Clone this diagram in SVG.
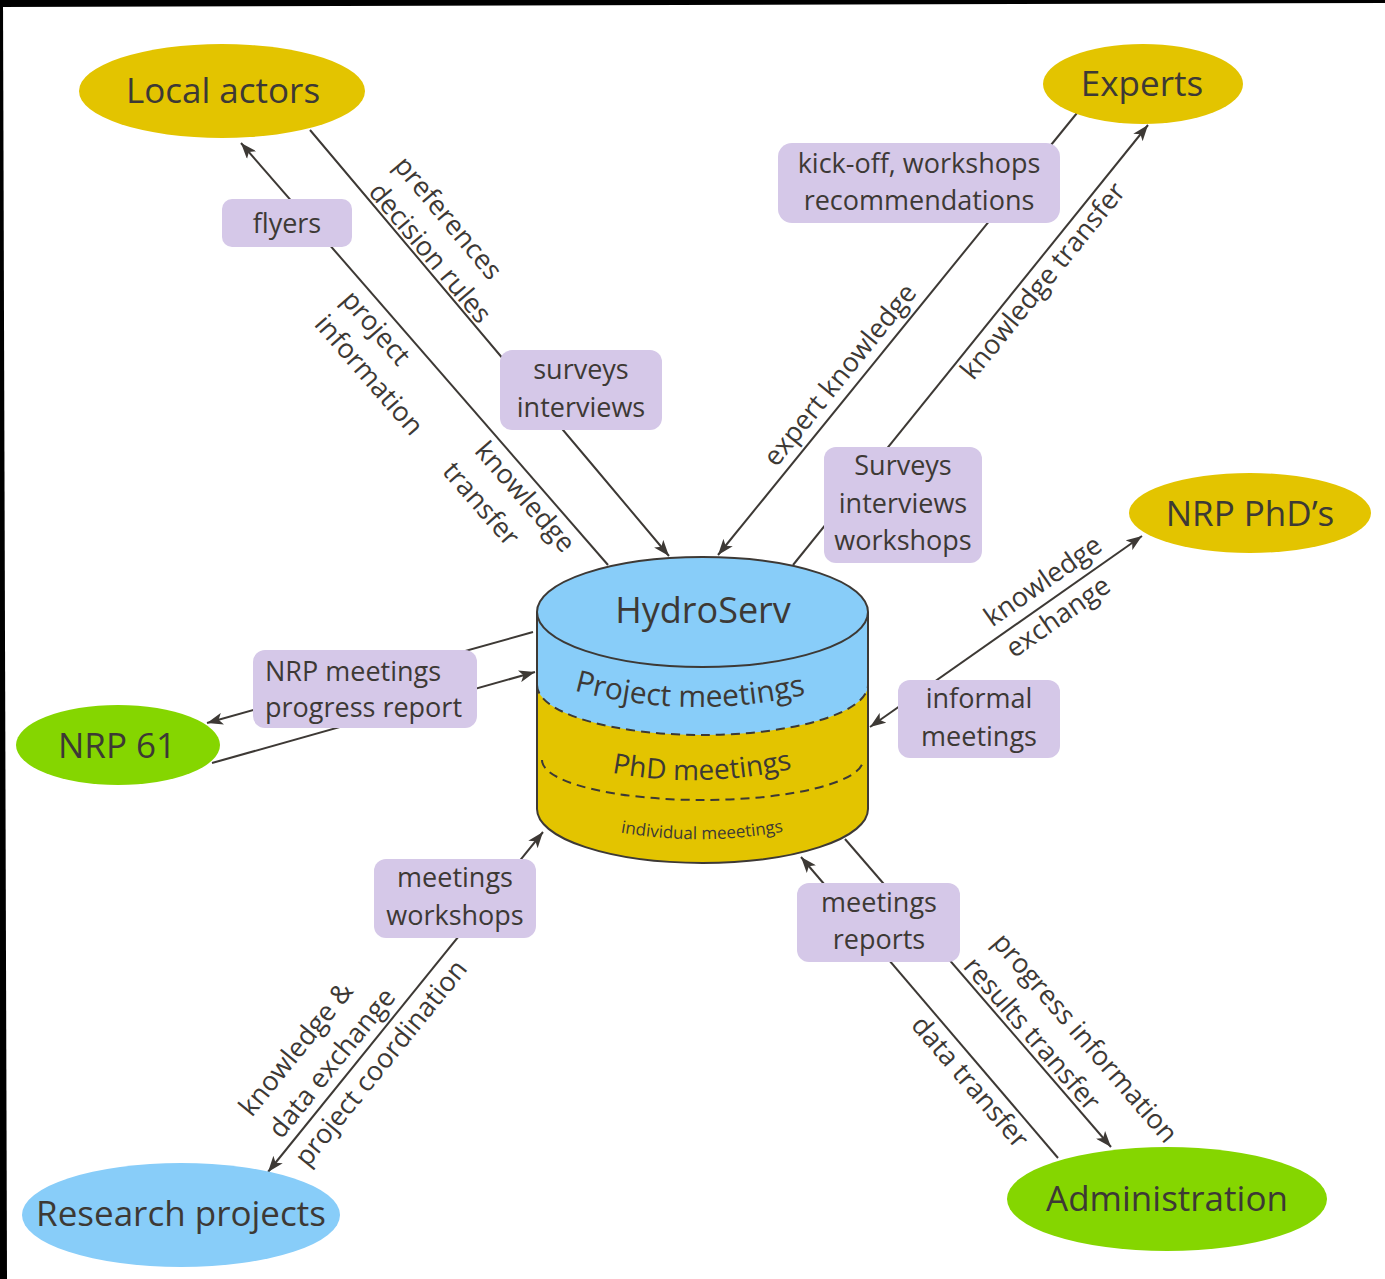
<svg xmlns="http://www.w3.org/2000/svg" width="1385" height="1279" viewBox="0 0 1385 1279">
<defs>
<style>
text{font-family:"Open Sans","Noto Sans","Liberation Sans",sans-serif;fill:#3d3935}
.lbl{font-size:27px;text-anchor:middle}
.rot{font-size:27px;text-anchor:middle}
.big{font-size:35px;text-anchor:middle}
.box{fill:#d5c8e8}
.conn{stroke:#3d3935;stroke-width:2;fill:none}
.dash{stroke:#3d3935;stroke-width:2;fill:none;stroke-dasharray:9 6}
.yel{fill:#e3c400}
.grn{fill:#85d600}
.blu{fill:#88cdf9}
</style>
<marker id="ah" viewBox="0 0 16 12" markerWidth="16" markerHeight="12" refX="16" refY="6" orient="auto-start-reverse" markerUnits="userSpaceOnUse">
<path d="M0,0 L16,6 L0,12 L4,6 z" fill="#3d3935"/>
</marker>
</defs>
<rect width="1385" height="1279" fill="#fff"/>
<polygon points="0,0 1385,0 1385,3 0,7" fill="#000"/>
<polygon points="0,0 3,0 7,1279 0,1279" fill="#000"/>

<g id="connectors">
<line class="conn" x1="608" y1="565" x2="241" y2="143" marker-end="url(#ah)"/>
<polyline class="conn" points="310,130 590,462 669,556" marker-end="url(#ah)"/>
<line class="conn" x1="1077" y1="113" x2="718" y2="555" marker-end="url(#ah)"/>
<line class="conn" x1="793" y1="565" x2="1148" y2="125" marker-end="url(#ah)"/>
<line class="conn" x1="870" y1="727" x2="1142" y2="536" marker-start="url(#ah)" marker-end="url(#ah)"/>
<line class="conn" x1="533" y1="632" x2="207" y2="723" marker-end="url(#ah)"/>
<line class="conn" x1="212" y1="763" x2="535" y2="672" marker-end="url(#ah)"/>
<line class="conn" x1="543" y1="832" x2="268" y2="1172" marker-start="url(#ah)" marker-end="url(#ah)"/>
<line class="conn" x1="1058" y1="1158" x2="801" y2="857" marker-end="url(#ah)"/>
<line class="conn" x1="845" y1="839" x2="1111" y2="1147" marker-end="url(#ah)"/>
<g class="edge-labels">
<text class="rot" transform="translate(448,218) rotate(50)" y="9">preferences</text>
<text class="rot" transform="translate(430,253) rotate(50)" y="9">decision rules</text>
<text class="rot" transform="translate(376,328) rotate(49)" y="9">project</text>
<text class="rot" transform="translate(369,375) rotate(49)" y="9">information</text>
<text class="rot" transform="translate(525,497) rotate(49)" y="9">knowledge</text>
<text class="rot" transform="translate(481,504) rotate(49)" y="9">transfer</text>
<text class="rot" transform="translate(840,375) rotate(-51)" y="9">expert knowledge</text>
<text class="rot" transform="translate(1043,281) rotate(-51)" y="9">knowledge transfer</text>
<text class="rot" transform="translate(1043,581) rotate(-35)" y="9">knowledge</text>
<text class="rot" transform="translate(1058,617) rotate(-35)" y="9">exchange</text>
<text class="rot" transform="translate(296,1049) rotate(-51)" y="9">knowledge &amp;</text>
<text class="rot" transform="translate(332,1063) rotate(-51)" y="9">data exchange</text>
<text class="rot" transform="translate(381,1063) rotate(-51)" y="9">project coordination</text>
<text class="rot" transform="translate(970,1082) rotate(49.5)" y="9">data transfer</text>
<text class="rot" transform="translate(1032,1034) rotate(49.2)" y="9">results transfer</text>
<text class="rot" transform="translate(1085,1038) rotate(49.2)" y="9">progress information</text>
</g>
</g>

<g id="box-flyers"><rect class="box" x="222" y="199" width="130" height="48" rx="10"/><text class="lbl" x="287" y="233">flyers</text></g>
<g id="box-surveys"><rect class="box" x="500" y="350" width="162" height="80" rx="12"/><text class="lbl" x="581" y="379">surveys</text><text class="lbl" x="581" y="417">interviews</text></g>
<g id="box-kickoff"><rect class="box" x="778" y="143" width="282" height="80" rx="14"/><text class="lbl" x="919" y="173">kick-off, workshops</text><text class="lbl" x="919" y="210">recommendations</text></g>
<g id="box-surveys2"><rect class="box" x="824" y="447" width="158" height="116" rx="12"/><text class="lbl" x="903" y="475">Surveys</text><text class="lbl" x="903" y="513">interviews</text><text class="lbl" x="903" y="550">workshops</text></g>
<g id="box-nrp"><rect class="box" x="253" y="650" width="224" height="78" rx="12"/><text x="265" y="681" style="font-size:27px">NRP meetings</text><text x="265" y="717" style="font-size:27px">progress report</text></g>
<g id="box-informal"><rect class="box" x="898" y="680" width="162" height="78" rx="12"/><text class="lbl" x="979" y="708">informal</text><text class="lbl" x="979" y="746">meetings</text></g>
<g id="box-meetws"><rect class="box" x="374" y="859" width="162" height="79" rx="12"/><text class="lbl" x="455" y="887">meetings</text><text class="lbl" x="455" y="925">workshops</text></g>
<g id="box-meetrep"><rect class="box" x="797" y="883" width="163" height="79" rx="12"/><text class="lbl" x="879" y="912">meetings</text><text class="lbl" x="879" y="949">reports</text></g>

<g id="local-actors"><ellipse class="yel" cx="222" cy="91" rx="143" ry="47"/><text class="big" x="223" y="103">Local actors</text></g>
<g id="experts"><ellipse class="yel" cx="1143" cy="84" rx="100" ry="40"/><text class="big" x="1142" y="96">Experts</text></g>
<g id="nrp-phds"><ellipse class="yel" cx="1250" cy="513" rx="121" ry="40"/><text class="big" x="1250" y="526">NRP PhD’s</text></g>
<g id="nrp61"><ellipse class="grn" cx="118" cy="745" rx="102" ry="40"/><text class="big" x="117" y="758">NRP 61</text></g>
<g id="research"><ellipse class="blu" cx="181" cy="1215" rx="159" ry="52"/><text class="big" x="181" y="1226">Research projects</text></g>
<g id="admin"><ellipse class="grn" cx="1167" cy="1199" rx="160" ry="52"/><text class="big" x="1167" y="1211">Administration</text></g>

<g id="hydroserv">
<path class="yel" d="M537,612 L537,809 A165.5,54 0 0 0 868,809 L868,612 Z"/>
<path class="blu" d="M537,612 L537,685 A165.5,50 0 0 0 868,685 L868,612 Z"/>
<path class="conn" d="M537,612 L537,809 A165.5,54 0 0 0 868,809 L868,612"/>
<ellipse class="blu" cx="702.5" cy="612" rx="165.5" ry="55" stroke="#3d3935" stroke-width="2"/>
<path class="dash" d="M537,685 A165.5,50 0 0 0 868,685"/>
<path class="dash" d="M542,760 A160.5,40 0 0 0 863,760"/>
<text class="big" x="703" y="623" style="font-size:36px">HydroServ</text>
<path id="p1" d="M572,690 Q690,722 808,694" fill="none"/>
<path id="p2" d="M608,772 Q700,790 796,768" fill="none"/>
<path id="p3" d="M612,831 Q700,848 792,830" fill="none"/>
<text style="font-size:30px"><textPath href="#p1" startOffset="50%" text-anchor="middle">Project meetings</textPath></text>
<text style="font-size:28px"><textPath href="#p2" startOffset="50%" text-anchor="middle">PhD meetings</textPath></text>
<text style="font-size:17px"><textPath href="#p3" startOffset="50%" text-anchor="middle">individual meeetings</textPath></text>
</g>
</svg>
